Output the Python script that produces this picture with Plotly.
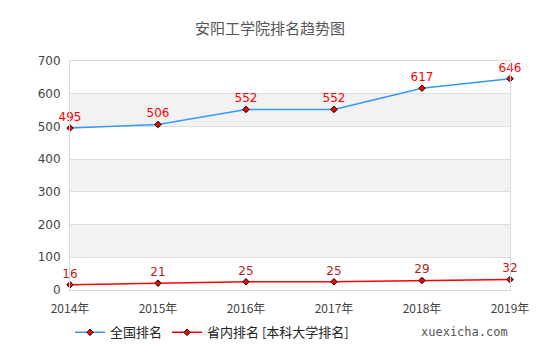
import plotly.graph_objects as go

years = ["2014年", "2015年", "2016年", "2017年", "2018年", "2019年"]
national = [495, 506, 552, 552, 617, 646]
provincial = [16, 21, 25, 25, 29, 32]
y_ticks = [0, 100, 200, 300, 400, 500, 600, 700]
bands = [(100, 200), (300, 400), (500, 600)]

fig = go.Figure()
fig.add_trace(go.Scatter(
    x=years, y=national, name="全国排名", mode="lines+markers+text",
    line=dict(color="#3399ff", width=1.5),
    marker=dict(symbol="diamond", size=5, color="#ff0000", line=dict(color="#000000", width=1)),
    text=[str(v) for v in national], textposition="top center",
    textfont=dict(color="#ff0000", size=12, family="DejaVu Sans"),
    cliponaxis=False,
))
fig.add_trace(go.Scatter(
    x=years, y=provincial, name="省内排名 [本科大学排名]", mode="lines+markers+text",
    line=dict(color="#ff0000", width=1.5),
    marker=dict(symbol="diamond", size=5, color="#ff0000", line=dict(color="#000000", width=1)),
    text=[str(v) for v in provincial], textposition="top center",
    textfont=dict(color="#b22222", size=12, family="DejaVu Sans"),
    cliponaxis=False,
))

for lo, hi in bands:
    fig.add_shape(type="rect", xref="paper", yref="y", x0=0, x1=1, y0=lo, y1=hi,
                  fillcolor="#f2f2f2", line=dict(width=0), layer="below")

fig.add_annotation(text="xuexicha.com", xref="paper", yref="paper", x=1.0, y=-0.185,
                   xanchor="right", yanchor="middle", showarrow=False,
                   font=dict(family="DejaVu Sans Mono", size=12, color="#555555"))

fig.update_layout(
    width=540, height=360,
    margin=dict(l=70, r=30, t=61, b=70),
    paper_bgcolor="white", plot_bgcolor="white",
    title=dict(text="安阳工学院排名趋势图", x=0.5, xanchor="center", y=0.92, yanchor="middle",
               font=dict(family="Noto Sans CJK SC", size=15, color="#555555")),
    font=dict(family="DejaVu Sans", size=12, color="#444444"),
    xaxis=dict(type="category", range=[0, 5], showgrid=False, showline=True, linecolor="#d9d9d9",
               linewidth=1, mirror=True, ticks="", ticklabelstandoff=8,
               tickfont=dict(family="Noto Sans CJK SC", size=12, color="#444444"),
               zeroline=False),
    yaxis=dict(range=[0, 700], tickvals=y_ticks, showgrid=True, gridcolor="#dddddd", gridwidth=1,
               showline=True, linecolor="#d9d9d9", linewidth=1, mirror=True, zeroline=False,
               tickfont=dict(size=12, color="#444444"), ticks="", ticklabelstandoff=6),
    legend=dict(orientation="h", x=0.0, xanchor="left", y=-0.185, yanchor="middle",
                font=dict(family="Noto Sans CJK SC", size=13, color="#222222"),
                itemwidth=30),
    showlegend=True,
)

fig.write_html("out.html")
